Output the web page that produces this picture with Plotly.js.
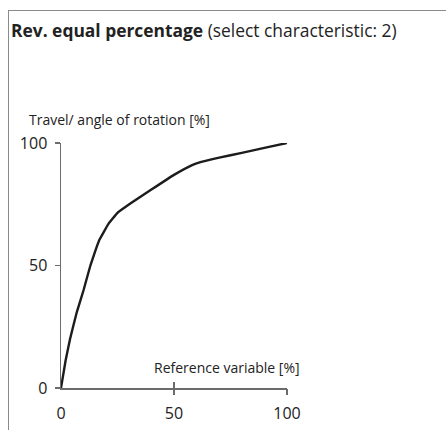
<!DOCTYPE html>
<html>
<head>
<meta charset="utf-8">
<script src="https://cdn.plot.ly/plotly-3.0.1.min.js"></script>
<style>
  html, body { margin: 0; padding: 0; background: #fff; }
  #wrap { position: relative; width: 446px; height: 430px; }
  #chart { position: absolute; left: 0; top: 0; width: 446px; height: 430px; }
  #frame { position: absolute; left: 8px; top: 10px; right: 0; bottom: 0;
           border-top: 1.5px solid #8a8a8a; border-left: 1.5px solid #8a8a8a; pointer-events: none; }
</style>
</head>
<body>
<div id="wrap">
  <div id="chart"></div>
  <div id="frame"></div>
</div>
<script>
// Reference variable [%]
const refVar = [0, 2, 4, 7, 10, 13, 15, 17, 21, 25, 31, 40, 50, 58, 61, 70, 80, 90, 100];
// Travel / angle of rotation [%]
const travel = [0, 11, 20, 31, 40, 50, 55.5, 60.5, 67, 71.5, 75.5, 81, 87, 91, 92, 94, 96, 98, 100];

const xTicks = [0, 50, 100];
const yTicks = [0, 50, 100];
const xCrossTicks = [50, 100];
const yCrossTicks = [100];

const titleText = '<b>Rev. equal percentage</b> (select characteristic: 2)';
const yLabel = 'Travel/ angle of rotation [%]';
const xLabel = 'Reference variable [%]';

const FONT = '"Open Sans", Lato, sans-serif';
const TXT = '#222222';
const AX = '#6b6b6b';

const traces = [
  { x: refVar, y: travel, type: 'scatter', mode: 'lines',
    line: { color: '#1c1c1c', width: 2.4, shape: 'spline', smoothing: 0.25 },
    cliponaxis: false, hoverinfo: 'skip', showlegend: false },
  { x: refVar, y: travel, type: 'scatter', mode: 'lines', xaxis: 'x2', yaxis: 'y2',
    line: { color: 'rgba(0,0,0,0)', width: 0 }, hoverinfo: 'skip', showlegend: false },
  { x: refVar, y: travel, type: 'scatter', mode: 'lines', xaxis: 'x3', yaxis: 'y',
    line: { color: 'rgba(0,0,0,0)', width: 0 }, hoverinfo: 'skip', showlegend: false }
];

const layout = {
  width: 446, height: 430,
  margin: { l: 61, r: 158.5, t: 143.3, b: 41.7, pad: 0 },
  paper_bgcolor: '#ffffff', plot_bgcolor: '#ffffff',
  font: { family: FONT, color: TXT, size: 14 },
  showlegend: false,
  title: { text: titleText, xref: 'container', yref: 'container',
           x: 11/446, xanchor: 'left', y: 1 - 31/430, yanchor: 'middle',
           font: { family: FONT, size: 17.4, color: TXT } },
  xaxis: { range: [0, 100], showgrid: false, zeroline: false, showline: true,
           linecolor: AX, linewidth: 1.5, tickvals: xTicks, ticktext: xTicks.map(String),
           ticks: 'outside', ticklen: 0, tickcolor: AX, tickwidth: 1.5,
           tickfont: { family: FONT, size: 16, color: TXT }, ticklabelstandoff: 10, fixedrange: true },
  yaxis: { range: [0, 100], showgrid: false, zeroline: false, showline: true,
           linecolor: AX, linewidth: 1.5, tickvals: yTicks, ticktext: yTicks.map(String),
           ticks: 'outside', ticklen: 5, tickcolor: AX, tickwidth: 1.5,
           tickfont: { family: FONT, size: 16, color: TXT }, ticklabelstandoff: 4, fixedrange: true },
  xaxis2: { range: [0, 100], overlaying: 'x', anchor: 'y', side: 'bottom', showgrid: false, zeroline: false,
            showline: false, tickvals: xCrossTicks, ticks: 'inside', ticklen: 6, tickcolor: AX, tickwidth: 1.5,
            showticklabels: false, fixedrange: true },
  xaxis3: { range: [0, 100], overlaying: 'x', anchor: 'y', side: 'bottom', showgrid: false, zeroline: false,
            showline: false, tickvals: xCrossTicks, ticks: 'outside', ticklen: 6, tickcolor: AX, tickwidth: 1.5,
            showticklabels: false, fixedrange: true },
  yaxis2: { range: [0, 100], overlaying: 'y', anchor: 'x', side: 'left', showgrid: false, zeroline: false,
            showline: false, tickvals: yCrossTicks, ticks: 'inside', ticklen: 7, tickcolor: AX, tickwidth: 1.5,
            showticklabels: false, fixedrange: true },
  annotations: [
    { text: yLabel, xref: 'paper', yref: 'paper', x: (27 - 61) / 226.5, y: (388.3 - 120) / 245,
      xanchor: 'left', yanchor: 'middle', showarrow: false, font: { family: FONT, size: 14, color: TXT } },
    { text: xLabel, xref: 'paper', yref: 'paper', x: (303 - 61) / 226.5, y: (388.3 - 368) / 245,
      xanchor: 'right', yanchor: 'middle', showarrow: false, font: { family: FONT, size: 14, color: TXT } }
  ]
};

Plotly.newPlot('chart', traces, layout, { staticPlot: true, displayModeBar: false });
</script>
</body>
</html>
